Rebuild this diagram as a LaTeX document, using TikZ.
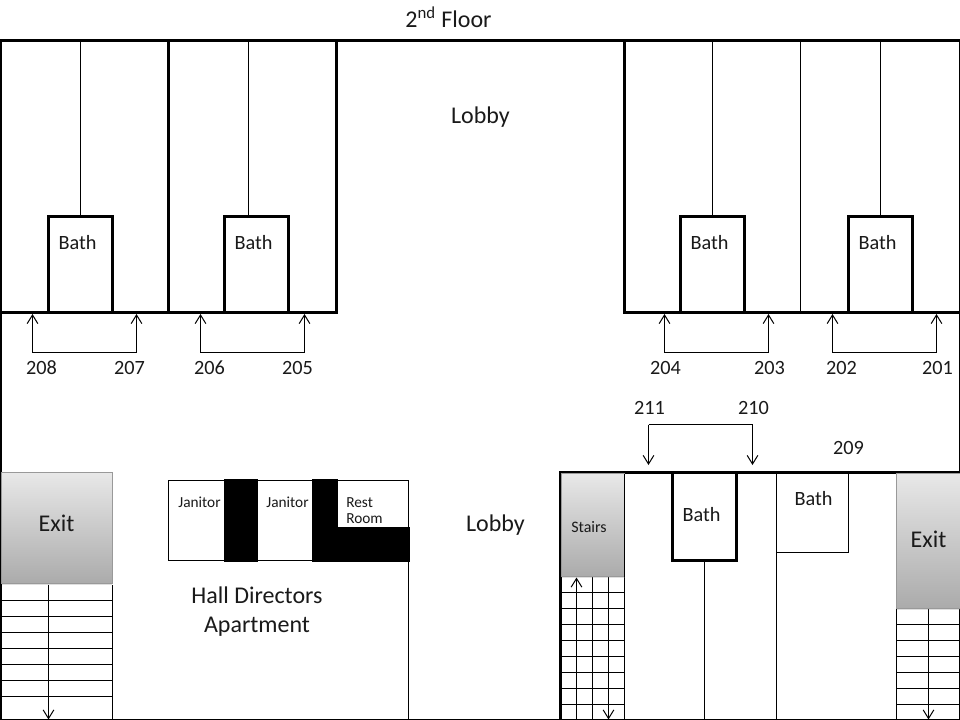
\documentclass[tikz,border=0pt]{standalone}
\usepackage{fontspec}
\setmainfont{Carlito}
\usetikzlibrary{arrows.meta,shadows}
\definecolor{inkc}{HTML}{1A1A1A}
\tikzset{
  x=0.75pt,y=-0.75pt,
  wall/.style={line width=2.25pt,line cap=rect},
  thin wall/.style={line width=0.75pt},
  door/.style={line width=0.75pt,-{Straight Barb[length=6.5pt,width=8pt,line width=0.75pt]}},
  txt/.style={inner sep=0pt,text=inkc,text depth=0pt},
  lbl/.style={txt,text height=9.7pt,font=\fontsize{15.2}{15.2}\selectfont},
  biglbl/.style={txt,text height=11.5pt,font=\fontsize{18}{18}\selectfont},
  smalllbl/.style={txt,text height=7.4pt,font=\fontsize{11.5}{11.5}\selectfont},
  grad/.style={top color=black!9,bottom color=black!33,draw=black!40,line width=0.4pt,
    inner sep=0pt,outer sep=0pt,anchor=north west,
    drop shadow={shadow xshift=0pt,shadow yshift=-1.5pt,opacity=0.25}},
}
\begin{document}
\begin{tikzpicture}
\useasboundingbox (0,0) rectangle (960,720);
\fill[white] (0,0) rectangle (960,720);

% outer frame
\draw[thin wall] (959.5,40) -- (959.5,720);
\draw[thin wall] (0,719.5) -- (960,719.5);
\begin{scope}[shift={(0.5,0.5)}]
\draw[wall] (0.3,40) -- (0.3,720);
\draw[wall] (0,40) -- (960,40);

% upper rooms: thin partitions
\foreach \x in {80,248,712,880} \draw[thin wall] (\x,40) -- (\x,216);
\draw[thin wall] (800,40) -- (800,312);

% upper rooms: walls
\draw[wall] (0,312) -- (336,312);
\draw[wall] (624,312) -- (960,312);
\foreach \x in {168,336,624} \draw[wall] (\x,40) -- (\x,312);
\foreach \x in {48,224,680,848} \draw[wall] (\x,312) -- (\x,216) -- (\x+64,216) -- (\x+64,312);

% upper door brackets
\foreach \a/\b in {32/136,200/304,664/768,832/936}{
  \coordinate (ta) at (\a,313.5);
  \coordinate (tb) at (\b,313.5);
  \draw[door] (\a,352) -- (ta);
  \draw[door] (\b,352) -- (tb);
  \draw[thin wall] (\a,352) -- (\b,352);
}

% upper labels
\node[biglbl] at (448,19) {2\textsuperscript{nd} Floor};
\node[biglbl] at (480,115) {Lobby};
\foreach \x in {77,253,709,877} \node[lbl] at (\x,243) {Bath};
\foreach \x/\t in {41/208,129/207,209/206,297/205,665/204,769/203,841/202,937/201}
  \node[lbl] at (\x,367.5) {\t};

% left exit stairs
\foreach \y in {600,616,632,648,664,680,696} \draw[thin wall] (0,\y) -- (112,\y);
\draw[thin wall] (112,584) -- (112,720);
\draw[door] (48,584) -- (48,719);
\node[grad,minimum width=83pt,minimum height=83.2pt] (exitl) at (1,472) {};
\node[biglbl] at (56,523) {Exit};

% janitor block
\draw[thin wall] (168,480) rectangle (408,560);
\fill (223,478.5) rectangle (257,561);
\fill (311,478.5) rectangle (337,561);
\fill (311,526) rectangle (409.5,561);
\draw[thin wall] (408,560) -- (408,720);
\node[smalllbl] at (199,502.5) {Janitor};
\node[smalllbl] at (287,502.5) {Janitor};
\node[smalllbl,anchor=west] at (345.5,502.5) {Rest};
\node[smalllbl,anchor=west] at (345.5,518.5) {Room};
\node[biglbl] at (256.5,595) {Hall Directors};
\node[biglbl] at (256.5,624) {Apartment};
\node[biglbl] at (495,523) {Lobby};

% lower right
\draw[wall] (560,472) -- (960,472);
\draw[wall] (560,472) -- (560,720);

% inner stairs
\foreach \y in {592,608,624,640,656,672,688,704} \draw[thin wall] (561,\y) -- (624,\y);
\draw[thin wall] (592,576) -- (592,720);
\draw[thin wall] (624,576) -- (624,720);
\draw[door] (576,720) -- (576,577);
\draw[door] (608,576) -- (608,719);
\node[grad,minimum width=47.25pt,minimum height=77pt] (stairs) at (561,473) {};
\draw[thin wall] (624,473) -- (624,576);
\node[smalllbl,text height=7.7pt,font=\fontsize{12}{12}\selectfont] at (588.5,527) {Stairs};

% baths
\draw[thin wall] (704,560) -- (704,720);
\draw[wall] (672,472) -- (672,560) -- (736,560) -- (736,472);
\node[lbl] at (701,515) {Bath};
\draw[thin wall] (776,472) -- (776,720);
\draw[thin wall] (776,552) -- (848,552) -- (848,472);
\node[lbl] at (813,499) {Bath};

% right exit stairs
\foreach \y in {624,640,656,672,688,704} \draw[thin wall] (896,\y) -- (960,\y);
\draw[thin wall] (896,608) -- (896,720);
\draw[door] (928,608) -- (928,719);
\node[grad,minimum width=48pt,minimum height=101pt] (exitr) at (896,473) {};
\node[biglbl] at (928,539) {Exit};

% lower door bracket
\draw[door] (648,424) -- (648,464.5);
\draw[door] (752,424) -- (752,464.5);
\draw[thin wall] (648,424) -- (752,424);
\node[lbl] at (649,407.5) {211};
\node[lbl] at (753,407.5) {210};
\node[lbl] at (848,447.5) {209};
\end{scope}
\end{tikzpicture}
\end{document}
